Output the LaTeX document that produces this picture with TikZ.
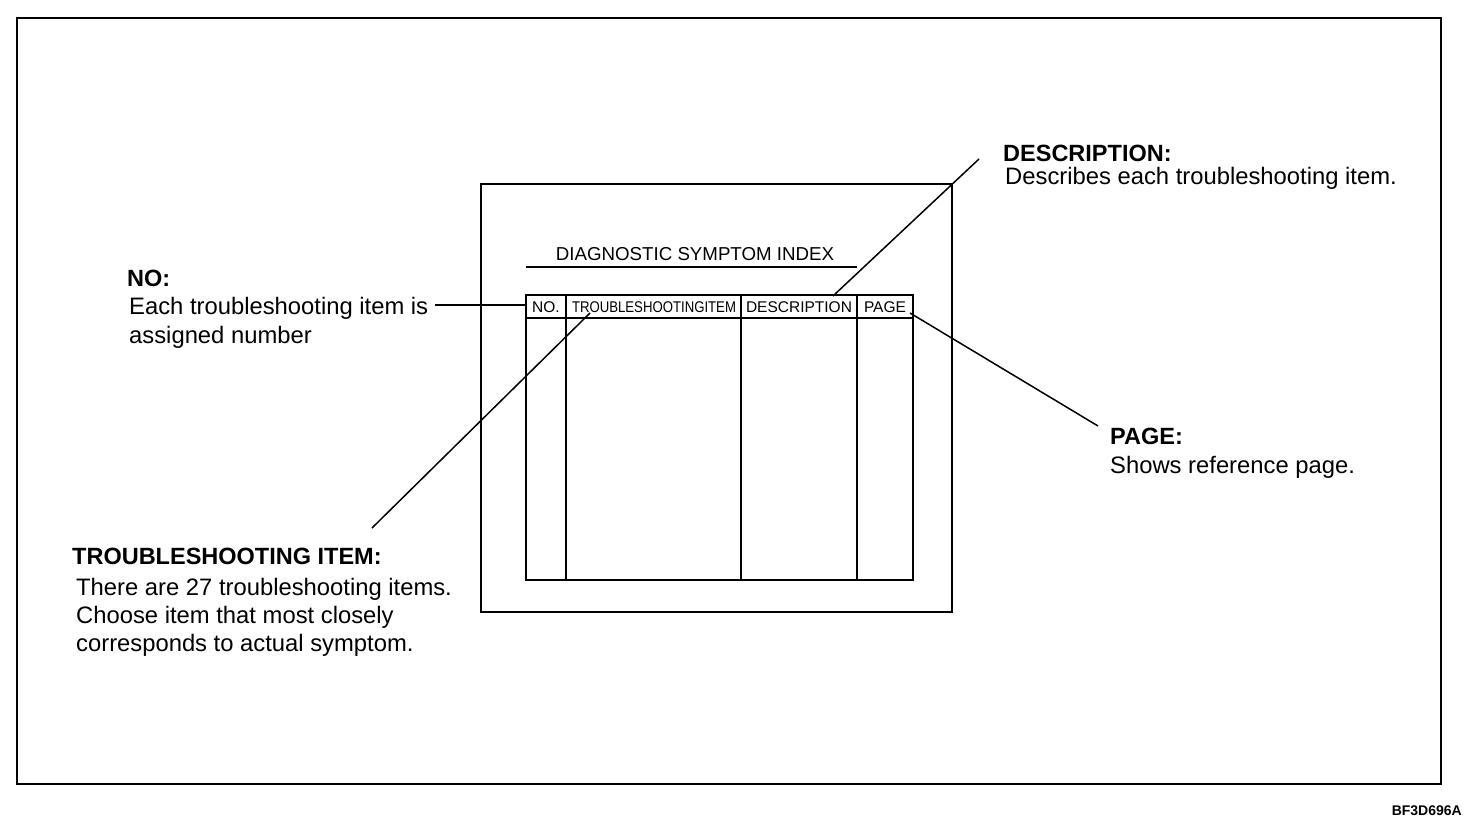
\documentclass[tikz,border=0pt]{standalone}
\usepackage{fontspec}
\setmainfont{Liberation Sans}
\usepackage{graphicx}
\begin{document}
\begin{tikzpicture}[x=1pt,y=-1pt,
  frame/.style={draw=black,line width=2.2pt},
  tline/.style={draw=black,line width=2.2pt},
  leader/.style={draw=black,line width=1.5pt},
  head/.style={anchor=base west,inner sep=0pt,font=\fontsize{23.5}{28}\selectfont\bfseries},
  body/.style={anchor=base west,inner sep=0pt,font=\fontsize{23.8}{28}\selectfont},
  cell/.style={inner sep=0pt,font=\fontsize{15.5}{18}\selectfont},
]
\useasboundingbox (0,0) rectangle (1472,826);
\fill[white] (0,0) rectangle (1472,826);
% outer frame and inner box
\draw[frame] (17,18) rectangle (1441,784);
\draw[frame] (481,184) rectangle (952,612);
% title
\node[inner sep=0pt,font=\fontsize{18.7}{22}\selectfont] (title) at (695,254) {DIAGNOSTIC SYMPTOM INDEX};
\draw[tline] (526,267) -- (857,267);
% table
\draw[tline] (526,295) rectangle (913,580);
\draw[tline] (526,318) -- (913,318);
\draw[tline] (566,295) -- (566,580);
\draw[tline] (741,295) -- (741,580);
\draw[tline] (857,295) -- (857,580);
\node[cell] (hNo) at (546,307) {NO.};
\node[cell] (hTi) at (654,307) {\scalebox{0.85}[1]{TROUBLESHOOTINGITEM}};
\node[cell] (hDe) at (799,307) {DESCRIPTION};
\node[cell] (hPa) at (885,307) {PAGE};
\coordinate (noEnd) at (526,305);
\coordinate (tiEnd) at (590,313);
\coordinate (deEnd) at (833,296);
\coordinate (paEnd) at (910,313);
% NO label
\node[head] (noH) at (127,287) {NO:};
\node[body] (noL1) at (129,315) {Each troubleshooting item is};
\node[body] (noL2) at (129,343) {assigned number};
\coordinate (noStart) at (435,305);
\draw[leader] (noStart) -- (noEnd);
% TROUBLESHOOTING ITEM label
\node[head] (tiH) at (72,564) {TROUBLESHOOTING ITEM:};
\node[body] (tiL1) at (76,595) {There are 27 troubleshooting items.};
\node[body] (tiL2) at (76,623) {Choose item that most closely};
\node[body] (tiL3) at (76,651) {corresponds to actual symptom.};
\coordinate (tiStart) at (372,528);
\draw[leader] (tiStart) -- (tiEnd);
% DESCRIPTION label
\node[head] (deH) at (1003,162) {DESCRIPTION:};
\node[body] (deL1) at (1005,185) {Describes each troubleshooting item.};
\coordinate (deStart) at (979,159);
\draw[leader] (deStart) -- (deEnd);
% PAGE label
\node[head] (paH) at (1110,444) {PAGE:};
\node[body] (paL1) at (1110,473) {Shows reference page.};
\coordinate (paStart) at (1098,426);
\draw[leader] (paEnd) -- (paStart);
% figure code
\node[inner sep=0pt,anchor=base east,font=\fontsize{14}{16}\selectfont\bfseries] (code) at (1462,815) {BF3D696A};
\end{tikzpicture}
\end{document}
